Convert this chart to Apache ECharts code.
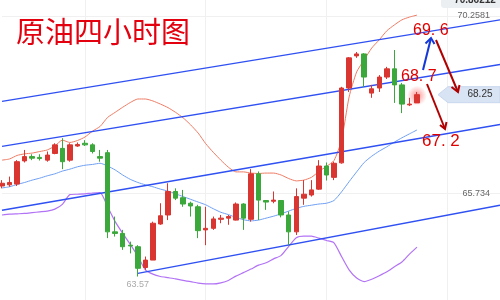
<!DOCTYPE html>
<html><head><meta charset="utf-8">
<script src="https://cdn.jsdelivr.net/npm/echarts@6/dist/echarts.min.js"></script>
<style>html,body{margin:0;padding:0;background:#fff}#c{width:500px;height:300px}</style>
</head><body><div id="c"></div>
<script>
const titleText = '原油四小时图';
// [open, close, low, high]
const candles = [
[65.92,65.99,65.86,66.07],[65.95,66.01,65.90,66.16],[65.97,66.54,65.92,66.58],[66.56,66.67,66.52,66.84],
[66.67,66.63,66.58,66.73],[66.65,66.62,66.57,66.73],[66.58,66.71,66.54,66.80],[66.75,66.97,66.73,67.01],
[66.88,66.54,66.35,67.14],[66.58,66.97,66.54,67.01],[66.94,66.98,66.92,67.03],[67.01,66.97,66.94,67.09],
[66.97,66.80,66.75,67.01],[66.67,66.63,66.54,66.84],[66.77,64.75,64.59,66.84],[64.75,64.71,64.63,65.14],
[64.71,64.37,64.29,64.80],[64.41,64.39,64.20,64.50],[64.37,63.82,63.61,64.41],[63.84,64.03,63.78,64.12],
[64.03,64.97,64.03,65.01],[64.95,65.16,64.93,65.48],[65.18,65.78,65.05,65.99],[65.78,65.61,65.56,65.86],
[65.62,65.46,65.39,65.82],[65.48,65.41,65.14,65.52],[65.39,64.78,64.59,65.44],[64.80,64.84,64.41,65.39],
[64.84,65.08,64.80,65.14],[65.07,65.10,64.97,65.18],[65.10,65.14,64.93,65.18],[65.05,65.46,65.04,65.50],
[65.46,65.10,64.80,65.48],[65.07,66.23,65.01,66.35],[66.23,65.56,65.05,66.29],[65.55,65.51,65.31,65.56],
[65.53,65.56,65.48,65.78],[65.55,65.18,65.12,65.56],[65.18,64.75,64.41,65.27],[64.75,65.65,64.67,65.86],
[65.61,65.71,65.44,66.07],[65.69,65.82,65.65,66.07],[65.84,66.43,65.82,66.58],[66.43,66.20,66.06,66.52],
[66.14,66.50,66.07,66.54],[66.51,68.42,66.49,68.45],[68.42,69.19,68.32,69.21],[69.24,69.29,69.19,69.34],
[69.29,68.70,68.45,69.31],[68.29,68.40,68.17,68.50],[68.42,68.70,68.32,68.75],[68.70,68.91,68.65,68.96],
[68.91,68.50,68.04,69.39],[68.50,68.01,67.78,68.55],[67.99,68.01,67.96,68.17],[68.04,68.25,68.04,68.32]
];
const upperBand = [66.58,66.61,66.70,66.74,66.76,66.80,66.84,66.94,67.09,67.03,
67.08,67.17,67.32,67.44,67.67,67.80,67.93,68.05,68.14,68.14,
68.09,68.01,67.92,67.80,67.66,67.48,67.27,67.00,66.78,66.58,
66.40,66.28,66.28,66.25,66.24,66.25,66.25,66.20,66.11,66.05,
66.07,66.14,66.29,66.42,66.57,67.09,68.19,68.83,69.14,69.44,
69.65,69.88,70.03,70.16,70.23,70.28];
const midBand = [65.87,65.90,65.96,66.01,66.07,66.12,66.18,66.23,66.30,66.35,
66.41,66.45,66.47,66.50,66.43,66.33,66.20,66.09,66.01,65.95,
65.90,65.84,65.79,65.72,65.65,65.58,65.51,65.44,65.34,65.25,
65.19,65.12,65.06,65.03,65.05,65.10,65.15,65.21,65.28,65.35,
65.40,65.43,65.46,65.48,65.55,65.77,66.03,66.28,66.52,66.68,
66.81,66.92,67.04,67.15,67.25,67.35];
const lowerBand = [65.18,65.20,65.21,65.22,65.24,65.26,65.28,65.33,65.45,65.70,
65.71,65.72,65.74,65.75,65.39,65.01,64.71,64.43,64.13,63.78,
63.67,63.61,63.58,63.55,63.51,63.48,63.44,63.42,63.42,63.45,
63.51,63.62,63.71,63.80,63.90,63.96,64.06,64.15,64.38,64.60,
64.64,64.64,64.59,64.53,64.47,64.12,63.78,63.57,63.48,63.54,
63.63,63.73,63.86,63.98,64.18,64.36];
const channelA = [[0,68.08],[66,70.16]];
const channelB = [[0,66.93],[66,69.02]];
const channelC = [[0,65.30],[66,67.49]];
const channelD = [[18,63.69],[66,65.43]];
const gridValues = [65.734, 70.2581];
const topTag = '70.86212';
const lastPrice = 68.25;
const lowLabel = '63.57';
const lowIndex = 18;
const targetLabels = ['69. 6', '68. 7', '67. 2'];
const N = 67;
const categories = Array.from({length: N}, (_, i) => String(i + 1));

const chart = echarts.init(document.getElementById('c'), null, {renderer: 'canvas'});
const lineS = (name, data, color, width) => ({
  name, type: 'line', data, symbol: 'none', smooth: 0.2, z: 3,
  lineStyle: {color, width}, itemStyle: {color}, silent: true
});
const chanColor = '#2f50f2';
chart.setOption({
  animation: false,
  title: {text: titleText, left: 11, top: 12,
    textStyle: {color: '#e3000f', fontSize: 29, fontWeight: 'normal', fontFamily: '"Noto Sans CJK SC"'}},
  grid: {left: 2, right: -3, top: 0, bottom: 0, containLabel: false},
  xAxis: {type: 'category', data: categories, boundaryGap: false,
    axisLine: {show: false}, axisTick: {show: false}, axisLabel: {show: false},
    splitLine: {show: true, interval: (i) => i % 16 === 11, lineStyle: {color: '#f0f0f0'}}},
  yAxis: {type: 'value', position: 'right', min: 63.011, max: 70.666,
    axisLine: {show: false}, axisTick: {show: false, customValues: gridValues},
    axisLabel: {inside: true, margin: 10, customValues: gridValues, color: '#666', fontSize: 9,
      fontFamily: '"Liberation Sans"', formatter: (v) => String(v)},
    splitLine: {show: true, lineStyle: {color: '#f0f0f0'}}},
  series: [
    {type: 'candlestick', data: candles, barWidth: 5, z: 4,
      itemStyle: {color: '#d93631', color0: '#3aa83a', borderColor: '#d93631', borderColor0: '#3aa83a', borderWidth: 1}},
    lineS('upper', upperBand, '#ee7b64', 1),
    lineS('mid', midBand, '#6f9ff3', 1),
    lineS('lower', lowerBand, '#b273f5', 1.2),
    lineS('chA', channelA, chanColor, 1.4),
    lineS('chB', channelB, chanColor, 1.4),
    lineS('chC', channelC, chanColor, 1.4),
    lineS('chD', channelD, chanColor, 1.4)
  ]
});

const py = (v) => chart.convertToPixel({yAxisIndex: 0}, v);
const pt = (i, v) => chart.convertToPixel({xAxisIndex: 0, yAxisIndex: 0}, [i, v]);
const lastIdx = candles.length - 1;
const lastPt = pt(lastIdx, lastPrice);
const tagY = py(lastPrice);
const lowPt = pt(lowIndex, candles[lowIndex][2]);
const txt = (text, x, y, fill, font, align, z) => ({
  type: 'text', z: z || 10, style: {text, x, y, fill, font, textAlign: align || 'left', align: align || 'left',
    textVerticalAlign: 'middle', verticalAlign: 'middle'}
});
const arrow = (x1, y1, x2, y2, w1, w2, color) => ([
  {type: 'polyline', z: 9, shape: {points: [[x1, y1], [x2, y2]]}, style: {stroke: color, lineWidth: 2, fill: null}},
  {type: 'polyline', z: 9, shape: {points: [w1, [x2, y2], w2]}, style: {stroke: color, lineWidth: 2, fill: null}}
]);
const annFont = '16px "Liberation Sans"';
chart.setOption({graphic: [
  {type: 'circle', z: 1, shape: {cx: lastPt[0], cy: lastPt[1] + 1, r: 10},
    style: {fill: new echarts.graphic.RadialGradient(0.5, 0.5, 0.5, [
      {offset: 0, color: 'rgba(255,60,60,0.55)'}, {offset: 1, color: 'rgba(255,60,60,0)'}])}},
  {type: 'polygon', z: 8, shape: {points: [[438, tagY], [448, tagY - 8], [500, tagY - 8], [500, tagY + 8], [448, tagY + 8]]},
    style: {fill: '#d8e3f3', stroke: '#c9d7ee', lineWidth: 1}},
  txt(String(lastPrice), 480, tagY, '#333', '10px "Liberation Sans"', 'center'),
  {type: 'rect', z: 8, shape: {x: 441, y: -5, width: 60, height: 13, r: 3}, style: {fill: '#eceff2'}},
  txt(topTag, 475, 0, '#333', 'bold 10px "Liberation Sans"', 'center'),
  txt(lowLabel, lowPt[0], lowPt[1] + 8, '#aaa', '9px "Liberation Sans"', 'center'),
  txt(targetLabels[0], 413, 31, '#e00000', annFont),
  txt(targetLabels[1], 401, 77, '#e00000', annFont),
  txt(targetLabels[2], 422, 141, '#e00000', '17px "Liberation Sans"'),
  ...arrow(423, 70, 431, 38, [425.5, 43.5], [434.5, 44], '#1538d8'),
  ...arrow(436, 40, 458, 92, [451.5, 87], [459.5, 85], '#b00000'),
  ...arrow(427, 84, 445, 129, [440, 125], [446.5, 122], '#b00000')
]});
</script></body></html>
